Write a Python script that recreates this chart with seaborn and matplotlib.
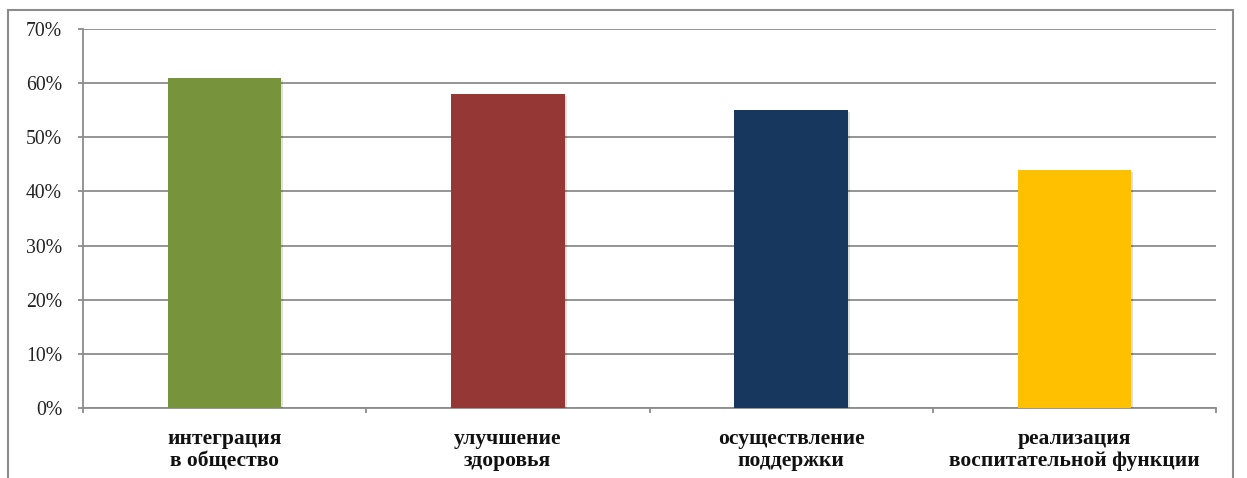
import matplotlib
matplotlib.use("Agg")
import matplotlib.pyplot as plt
import matplotlib.patheffects as pe
import seaborn as sns
import pandas as pd
from matplotlib.patches import Rectangle
from matplotlib.ticker import FuncFormatter, MultipleLocator

categories = ["интеграция\nв общество", "улучшение\nздоровья",
              "осуществление\nподдержки", "реализация\nвоспитательной функции"]
values = [61, 58, 55, 44]
colors = ["#77933C", "#953735", "#17375E", "#FFC000"]

sns.set_theme(style="white")
plt.rcParams["font.family"] = ["Liberation Serif", "DejaVu Serif"]

df = pd.DataFrame({"cat": categories, "val": values})

W, H = 1247, 478
fig = plt.figure(figsize=(W / 100, H / 100), dpi=100)
ax = fig.add_axes([83 / W, 1 - 408 / H, (1216 - 83) / W, (408 - 29) / H])

sns.barplot(data=df, x="cat", y="val", hue="cat", palette=colors,
            width=0.40, legend=False, ax=ax, zorder=3, saturation=1)

# soft drop shadow under each bar
for bar in ax.patches:
    bar.set_path_effects([pe.SimplePatchShadow(offset=(1.5, -1.5), shadow_rgbFace="#000000",
                                               alpha=0.12), pe.Normal()])
    bar.set_edgecolor("none")

ax.set_ylim(0, 70)
ax.set_xlim(-0.5, len(categories) - 0.5)
ax.yaxis.set_major_locator(MultipleLocator(10))
ax.yaxis.set_major_formatter(FuncFormatter(lambda v, p: f"{v:.0f}%"))
ax.grid(axis="y", color="#8C8C8C", linewidth=1.3, zorder=0)
ax.set_axisbelow(True)
ax.set_xlabel("")
ax.set_ylabel("")

for side in ["top", "right"]:
    ax.spines[side].set_visible(False)
for side in ["left", "bottom"]:
    ax.spines[side].set_color("#8C8C8C")
    ax.spines[side].set_linewidth(1.3)

ax.tick_params(axis="y", which="major", left=True, length=3.6, width=1.3,
               color="#8C8C8C", labelsize=14.2, pad=11.5, labelcolor="#222222")
# category boundaries carry the x ticks
ax.set_xticks([i - 0.5 for i in range(len(categories) + 1)], minor=False)
ax.set_xticklabels([""] * (len(categories) + 1))
ax.set_xticks(range(len(categories)), minor=True)
ax.set_xticklabels(categories, minor=True, fontweight="bold", fontsize=15.5,
                   linespacing=1.15)
ax.tick_params(axis="x", which="major", bottom=True, length=3.6, width=1.3,
               color="#8C8C8C")
ax.tick_params(axis="x", which="minor", bottom=False, pad=11, labelcolor="#111111")

# chart-area frame
fig.patches.append(Rectangle((8 / W, -0.1), (1233 - 8) / W, 1 - 10 / H + 0.1,
                             transform=fig.transFigure, fill=False,
                             edgecolor="#8C8C8C", linewidth=1.5))

fig.savefig("out.png", dpi=100)
